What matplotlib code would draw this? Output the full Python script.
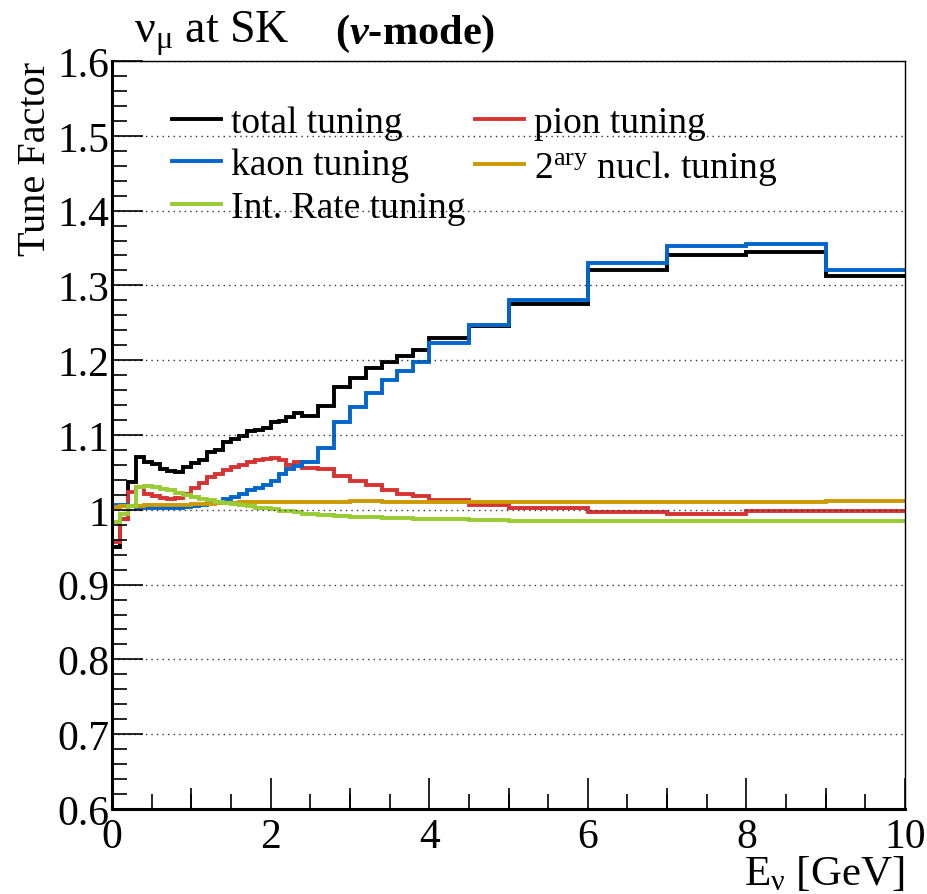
import numpy as np
import matplotlib
matplotlib.use("Agg")
import matplotlib.pyplot as plt
from matplotlib.ticker import MultipleLocator, FormatStrFormatter, FuncFormatter

plt.rcParams['font.family'] = ['Liberation Serif', 'DejaVu Serif']
plt.rcParams['mathtext.fontset'] = 'custom'
plt.rcParams['mathtext.rm'] = 'Liberation Serif'
plt.rcParams['mathtext.it'] = 'Liberation Serif:italic'
plt.rcParams['mathtext.bf'] = 'Liberation Serif:bold'
plt.rcParams['mathtext.bfit'] = 'Liberation Serif:italic:bold'

# energy bin edges [GeV]
edges = [0.0, 0.1, 0.2, 0.3, 0.4, 0.5, 0.6, 0.7, 0.8, 0.9, 1.0, 1.1, 1.2, 1.3,
         1.4, 1.5, 1.6, 1.7, 1.8, 1.9, 2.0, 2.1, 2.2, 2.3, 2.4, 2.6, 2.8, 3.0,
         3.2, 3.4, 3.6, 3.8, 4.0, 4.5, 5.0, 6.0, 7.0, 8.0, 9.0, 10.0]

total_tuning = [0.950, 0.988, 1.037, 1.071, 1.064, 1.061, 1.055, 1.052, 1.050, 1.057,
                1.062, 1.066, 1.077, 1.080, 1.090, 1.094, 1.099, 1.105, 1.107, 1.109,
                1.117, 1.119, 1.124, 1.129, 1.126, 1.139, 1.164, 1.176, 1.189, 1.198,
                1.206, 1.214, 1.230, 1.246, 1.275, 1.320, 1.341, 1.345, 1.312]
pion_tuning = [0.957, 0.988, 1.024, 1.030, 1.021, 1.018, 1.016, 1.015, 1.016, 1.021,
               1.029, 1.036, 1.044, 1.048, 1.053, 1.057, 1.060, 1.064, 1.066, 1.068,
               1.069, 1.066, 1.060, 1.064, 1.056, 1.054, 1.045, 1.038, 1.033, 1.027,
               1.021, 1.018, 1.013, 1.007, 1.002, 0.997, 0.995, 0.998, 0.998]
kaon_tuning = [1.007, 1.006, 1.005, 1.004, 1.003, 1.003, 1.002, 1.002, 1.003, 1.004,
               1.005, 1.007, 1.009, 1.011, 1.014, 1.017, 1.021, 1.026, 1.029, 1.033,
               1.039, 1.048, 1.055, 1.059, 1.064, 1.082, 1.118, 1.137, 1.156, 1.174,
               1.186, 1.198, 1.223, 1.247, 1.280, 1.330, 1.353, 1.355, 1.320]
nucl_tuning = [1.004, 1.005, 1.005, 1.005, 1.006, 1.006, 1.006, 1.007, 1.007, 1.007,
               1.008, 1.008, 1.008, 1.009, 1.009, 1.009, 1.010, 1.010, 1.010, 1.011,
               1.010, 1.010, 1.010, 1.010, 1.010, 1.011, 1.011, 1.012, 1.012, 1.011,
               1.011, 1.011, 1.011, 1.010, 1.010, 1.011, 1.011, 1.011, 1.012]
rate_tuning = [0.984, 0.995, 1.005, 1.031, 1.032, 1.031, 1.028, 1.026, 1.023, 1.020,
               1.017, 1.015, 1.013, 1.011, 1.009, 1.008, 1.006, 1.005, 1.003, 1.002,
               1.001, 0.999, 0.998, 0.997, 0.995, 0.993, 0.992, 0.990, 0.990, 0.989,
               0.989, 0.988, 0.988, 0.987, 0.985, 0.985, 0.985, 0.985, 0.985]

fig = plt.figure(figsize=(9.27, 8.95), dpi=100)
ax = fig.add_axes([0.1208, 0.095, 0.8555, 0.8357])

lw = 2.8
h_tot = ax.stairs(total_tuning, edges, baseline=None, color='black', lw=lw, label='total tuning')
h_pi = ax.stairs(pion_tuning, edges, baseline=None, color='#d63333', lw=lw, label='pion tuning')
h_k = ax.stairs(kaon_tuning, edges, baseline=None, color='#0066cc', lw=lw, label='kaon tuning')
h_n = ax.stairs(nucl_tuning, edges, baseline=None, color='#cc9900', lw=lw,
                label=r'2$^{\mathregular{ary}}$ nucl. tuning')
h_r = ax.stairs(rate_tuning, edges, baseline=None, color='#99cc33', lw=lw, label='Int. Rate tuning')

ax.set_xlim(0, 10)
ax.set_ylim(0.6, 1.6)

ax.xaxis.set_major_locator(MultipleLocator(2))
ax.xaxis.set_minor_locator(MultipleLocator(0.5))
ax.yaxis.set_major_locator(MultipleLocator(0.1))
ax.yaxis.set_minor_locator(MultipleLocator(0.02))
ax.yaxis.set_major_formatter(FuncFormatter(lambda v, p: '%g' % round(v, 2)))
ax.xaxis.set_major_formatter(FormatStrFormatter('%g'))

ax.tick_params(which='both', direction='in', top=False, right=False, labelsize=30)
ax.tick_params(which='major', length=22, width=1.2)
ax.tick_params(which='minor', length=11, width=1.2)
ax.tick_params(axis='x', which='major', pad=6)
ax.tick_params(axis='y', which='major', pad=2)

# medium ticks on integer GeV
sec = ax.secondary_xaxis('bottom')
sec.set_xticks([1, 3, 5, 7, 9])
sec.tick_params(direction='in', length=15, width=1.2, labelbottom=False)
sec.spines['bottom'].set_visible(False)

ax.yaxis.grid(True, which='major', linestyle=(0, (1, 3)), color='#333333', lw=1.0)

for s in ['left', 'bottom']:
    ax.spines[s].set_linewidth(2.2)
for s in ['top', 'right']:
    ax.spines[s].set_linewidth(1.0)

ax.set_ylabel('Tune Factor', fontsize=29, loc='top', labelpad=2)
fig.text(905 / 927, 1 - 885 / 895, r'E$_{\mathregular{ν}}$ [GeV]', fontsize=31,
         ha='right', va='baseline')

fig.text(0.145, 0.962, r'$\mathregular{ν_{μ}}$ at SK', fontsize=33, ha='left', va='center')
fig.text(0.361, 0.962, r'($\mathbfit{\nu}$-mode)', fontsize=30.5, fontweight='bold',
         ha='left', va='center')

leg_kw = dict(frameon=False, fontsize=27, loc='upper left', handlelength=1.3,
              handletextpad=0.27, labelspacing=0.22, borderaxespad=0, borderpad=0)
leg1 = ax.legend(handles=[h_tot, h_k, h_r], bbox_to_anchor=(0.0757, 0.941), **leg_kw)
ax.add_artist(leg1)
ax.legend(handles=[h_pi, h_n], bbox_to_anchor=(0.4577, 0.941), **leg_kw)

fig.savefig('out.png', dpi=100)
